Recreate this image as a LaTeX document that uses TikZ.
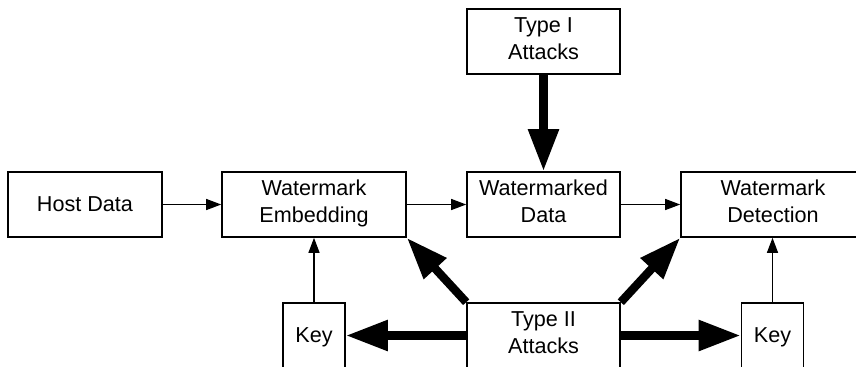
\documentclass[tikz,border=0pt]{standalone}
\usepackage{fontspec}
\setmainfont{Liberation Sans}
\usetikzlibrary{arrows.meta}
\pgfdeclarelayer{bg}
\pgfsetlayers{bg,main}
% line strut used to centre the labels on their cap height
\newcommand\boxstrut{\rule[-0.24\baselineskip]{0pt}{\baselineskip}}
\begin{document}
\begin{tikzpicture}[x=0.5pt,y=-0.5pt,
  blockbox/.style={draw=black,fill=white,line width=0.8pt,rectangle,
    minimum height=32.5pt,inner sep=0pt,align=center,
    font=\fontsize{10.8pt}{13.5pt}\selectfont,
    execute at begin node=\boxstrut,execute at end node=\boxstrut},
  thinflow/.style={draw=black,line width=0.6pt,
    -{Triangle[length=7.5pt,width=5.5pt]}},
  attackflow/.style={draw=black,line width=4.2pt,
    -{Triangle[length=21pt,width=14.5pt]}}]
\clip (0,0) rectangle (856,366);

% processing chain
\node[blockbox,minimum width=77pt] (host) at (85,204.5) {Host Data};
\node[blockbox,minimum width=92pt] (embed) at (314,204.5) {Watermark\\Embedding};
\node[blockbox,minimum width=76.5pt] (marked) at (543.5,204.5) {Watermarked\\Data};
\node[blockbox,minimum width=92pt] (detect) at (773,204.5) {Watermark\\Detection};

% attacks and keys
\node[blockbox,minimum width=76.5pt] (typeI) at (543.5,41.5) {Type I\\Attacks};
\node[blockbox,minimum width=76.5pt] (typeII) at (543.5,335.5) {Type II\\Attacks};
\node[blockbox,minimum width=31pt] (keyL) at (314,335.5) {Key};
\node[blockbox,minimum width=31pt] (keyR) at (772.5,335.5) {Key};

\begin{pgfonlayer}{bg}
  \draw[thinflow] (host.east) -- (embed.west);
  \draw[thinflow] (embed.east) -- (marked.west);
  \draw[thinflow] (marked.east) -- (detect.west);
  \draw[thinflow] (keyL.north) -- (keyL.north |- embed.south);
  \draw[thinflow] (keyR.north) -- (keyR.north |- detect.south);

  \draw[attackflow] (typeI.south) -- (marked.north);
  \draw[attackflow] (typeII.north west) -- (embed.south east);
  \draw[attackflow] (typeII.north east) -- (detect.south west);
  \draw[attackflow] (typeII.west) -- (keyL.east);
  \draw[attackflow] (typeII.east) -- (keyR.west);
\end{pgfonlayer}
\end{tikzpicture}
\end{document}
